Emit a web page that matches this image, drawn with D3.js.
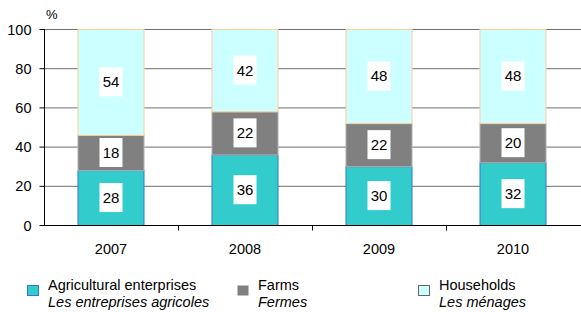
<!DOCTYPE html>
<html><head><meta charset="utf-8">
<script src="https://cdn.jsdelivr.net/npm/d3@7"></script>
<style>body{margin:0;background:#fff}svg{display:block}svg text{font-family:"Liberation Sans",Arial,sans-serif}</style>
</head><body><svg id="c" width="581" height="312"></svg>
<script>
const years = ["2007","2008","2009","2010"];
const agricultural = [28,36,30,32];
const farms = [18,22,22,20];
const households = [54,42,48,48];
const yTicks = [0,20,40,60,80,100];
const seriesNames = [
  {en:"Agricultural enterprises", fr:"Les entreprises agricoles"},
  {en:"Farms", fr:"Fermes"},
  {en:"Households", fr:"Les ménages"}
];
const fills = ["#33CCCC","#808080","#CCFFFF"];
const strokes = ["#3377CC","#B0B0B0","#FFCC99"];
const legendStrokes = ["#3377CC","#808080","#666666"];

const svg = d3.select("#c");
const x = d3.scaleBand().domain(years).range([44,580]).paddingInner(0.5).paddingOuter(0.25);
const y = d3.scaleLinear().domain([0,100]).range([225,29]);

// gridlines
svg.append("g").selectAll("line").data(yTicks.filter(d=>d>0)).join("line")
  .attr("x1",44).attr("x2",581).attr("y1",d=>y(d)+0.5).attr("y2",d=>y(d)+0.5)
  .attr("stroke","#707070").attr("stroke-width",1);

// stack
const data = years.map((yr,i)=>({year:yr, a:agricultural[i], f:farms[i], h:households[i]}));
const stack = d3.stack().keys(["a","f","h"])(data);

stack.forEach((s,si)=>{
  svg.append("g").selectAll("rect").data(s).join("rect")
    .attr("x",d=>x(d.data.year)+0.5)
    .attr("y",d=>y(d[1])+0.5)
    .attr("width",x.bandwidth()-1)
    .attr("height",d=>y(d[0])-y(d[1]))
    .attr("fill",fills[si]).attr("stroke",strokes[si]).attr("stroke-width",1);
});

// value labels
stack.forEach((s,si)=>{
  const g = svg.append("g").selectAll("g").data(s).join("g")
    .attr("transform",d=>`translate(${x(d.data.year)+x.bandwidth()/2},${y((d[0]+d[1])/2)})`);
  g.append("rect").attr("x",-11.5).attr("y",-14.5).attr("width",23).attr("height",29).attr("fill","#fff");
  g.append("text").attr("text-anchor","middle").attr("dy","0.36em")
    .attr("font-size",15).attr("fill","#000").text(d=>d[1]-d[0]);
});

// y axis
const yAxis = d3.axisLeft(y).tickValues(yTicks).tickSize(5).tickPadding(8);
const ya = svg.append("g").attr("transform","translate(44.5,0)").call(yAxis);
ya.select(".domain").attr("d","M0,"+y(100)+"V"+(y(0)+0.5)).attr("stroke","#000");
ya.selectAll(".tick line").attr("stroke","#000");
ya.selectAll("text").attr("font-size",14.5).attr("fill","#000").attr("dy","0.35em");

// x axis
const xa = svg.append("g").attr("transform",`translate(0,${y(0)+0.5})`);
xa.append("line").attr("x1",44).attr("x2",581).attr("stroke","#000");
xa.selectAll(".tk").data(years.slice(1)).join("line").attr("class","tk")
  .attr("x1",d=>Math.round(x(d)-x.step()/4)+0.5).attr("x2",d=>Math.round(x(d)-x.step()/4)+0.5)
  .attr("y1",0).attr("y2",5).attr("stroke","#000");
xa.selectAll("text").data(years).join("text")
  .attr("x",d=>x(d)+x.bandwidth()/2).attr("y",28).attr("text-anchor","middle")
  .attr("font-size",14.5).attr("fill","#000").text(d=>d);

// % label
svg.append("text").attr("x",46).attr("y",19).attr("font-size",13).attr("fill","#000").text("%");

// legend
const lx = [27,237,418];
seriesNames.forEach((s,i)=>{
  const g = svg.append("g").attr("transform",`translate(${lx[i]},0)`);
  g.append("rect").attr("x",0.5).attr("y",285.5).attr("width",11).attr("height",10)
    .attr("fill",fills[i]).attr("stroke",i===1?"none":legendStrokes[i]);
  g.append("text").attr("x",21).attr("y",290).attr("font-size",14.5).attr("fill","#000").text(s.en);
  g.append("text").attr("x",21).attr("y",307).attr("font-size",14.5).attr("font-style","italic").attr("fill","#000").text(s.fr);
});
</script></body></html>
